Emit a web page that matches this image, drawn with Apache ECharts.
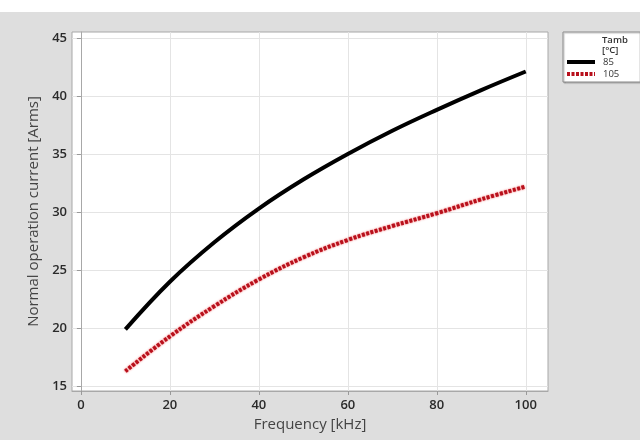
<!DOCTYPE html>
<html>
<head>
<meta charset="utf-8">
<title>Normal operation current vs frequency</title>
<script src="https://cdn.jsdelivr.net/npm/echarts@6/dist/echarts.min.js"></script>
<style>
  html, body { margin: 0; padding: 0; background: #ffffff; }
  #chart { width: 640px; height: 440px; }
</style>
</head>
<body>
<div id="chart"></div>
<script>
// Switching frequency [kHz]
const frequency = [10, 20, 30, 40, 50, 60, 70, 80, 90, 100];
// Normal operation current [Arms] at Tamb = 85 °C
const current85 = [19.9, 24.0, 27.4, 30.3, 32.8, 35.0, 37.0, 38.8, 40.5, 42.1];
// Normal operation current [Arms] at Tamb = 105 °C
const current105 = [16.3, 19.3, 21.9, 24.2, 26.1, 27.6, 28.8, 29.9, 31.1, 32.2];
// Axis tick labels
const xTicks = [0, 20, 40, 60, 80, 100];
const yTicks = [15, 20, 25, 30, 35, 40, 45];

const pairs = (xs, ys) => xs.map((x, i) => [x, ys[i]]);

const font = '"Open Sans", "Noto Sans", sans-serif';
const chart = echarts.init(document.getElementById('chart'), null, { renderer: 'canvas' });

chart.setOption({
  backgroundColor: '#ffffff',
  animation: false,
  textStyle: { fontFamily: font },
  graphic: [
    {
      type: 'rect', z: -10, silent: true,
      shape: { x: 0, y: 12, width: 640, height: 428 },
      style: { fill: '#dedede' }
    }
  ],
  title: {
    text: 'Tamb\n[°C]',
    left: 602, top: 35,
    padding: 0,
    z: 10,
    textStyle: { fontSize: 9.5, fontWeight: 600, color: '#333', lineHeight: 10, fontFamily: font }
  },
  legend: {
    orient: 'vertical',
    left: 563, top: 32,
    padding: [25, 21, 3, 2],
    itemWidth: 28, itemHeight: 8, itemGap: 2,
    backgroundColor: '#ffffff',
    borderColor: '#8a8a8a', borderWidth: 1,
    shadowColor: 'rgba(0,0,0,0.25)', shadowOffsetX: 1, shadowOffsetY: 1, shadowBlur: 1,
    itemStyle: { opacity: 0 },
    lineStyle: { width: 4 },
    textStyle: { fontSize: 9.5, color: '#333', fontFamily: font, padding: [0, 0, 0, 3] },
    data: ['85', '105']
  },
  grid: {
    left: 72, top: 32, right: 92, bottom: 49,
    show: true, backgroundColor: '#ffffff',
    borderColor: '#a8a8a8', borderWidth: 1
  },
  xAxis: {
    type: 'value', min: -2, max: 105,
    name: 'Frequency [kHz]', nameLocation: 'middle', nameGap: 25,
    nameTextStyle: { fontSize: 15, color: '#444', fontFamily: font },
    axisLine: { show: true, lineStyle: { color: '#a8a8a8' } },
    axisTick: { show: true, length: 4, lineStyle: { color: '#999' }, customValues: xTicks },
    axisLabel: { fontSize: 13, fontWeight: 600, color: '#2a2a2a', margin: 8, customValues: xTicks, fontFamily: font },
    splitLine: { show: true, lineStyle: { color: '#e4e4e4' }, customValues: xTicks }
  },
  yAxis: {
    type: 'value', min: 14.6, max: 45.5,
    name: 'Normal operation current [Arms]', nameLocation: 'middle', nameGap: 30,
    nameTextStyle: { fontSize: 15, color: '#444', fontFamily: font },
    axisLine: { show: true, lineStyle: { color: '#a8a8a8' } },
    axisTick: { show: true, length: 4, lineStyle: { color: '#999' }, customValues: yTicks },
    axisLabel: { fontSize: 13, fontWeight: 600, color: '#2a2a2a', margin: 5, customValues: yTicks, fontFamily: font },
    splitLine: { show: true, lineStyle: { color: '#e4e4e4' }, customValues: yTicks }
  },
  series: [
    {
      name: '85', type: 'line', smooth: 0.4, symbol: 'none',
      lineStyle: { color: '#000000', width: 4 },
      itemStyle: { color: '#000000' },
      data: pairs(frequency, current85)
    },
    {
      name: '105', type: 'line', smooth: 0.4, symbol: 'none',
      lineStyle: {
        color: '#b8101c', width: 4, type: [3, 1.5],
        shadowColor: 'rgba(235, 50, 50, 0.85)', shadowBlur: 2
      },
      itemStyle: { color: '#b8101c' },
      data: pairs(frequency, current105)
    }
  ]
});
</script>
</body>
</html>
